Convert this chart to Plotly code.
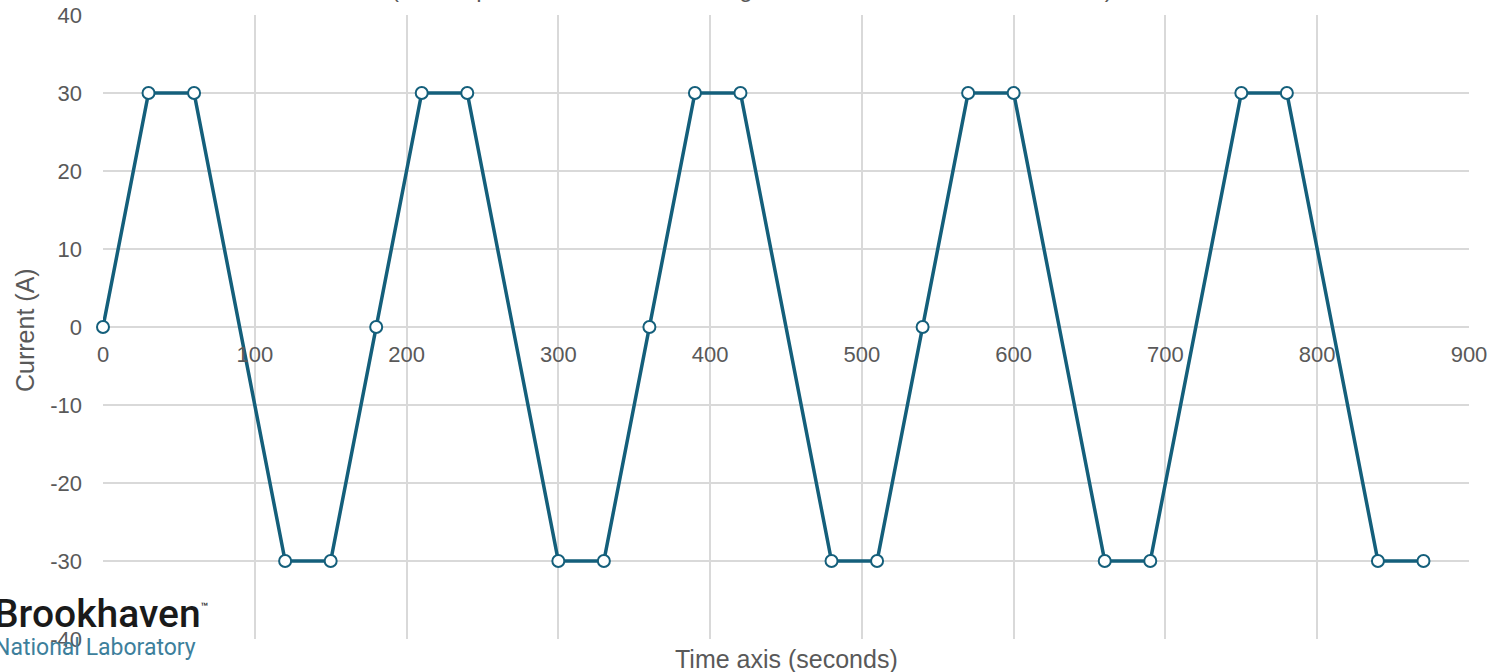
import plotly.graph_objects as go

# Data (time in seconds, current in amperes)
time_s = [0, 30, 60, 120, 150, 180, 210, 240, 300, 330, 360, 390, 420,
          480, 510, 540, 570, 600, 660, 690, 750, 780, 840, 870]
current_a = [0, 30, 30, -30, -30, 0, 30, 30, -30, -30, 0, 30, 30,
             -30, -30, 0, 30, 30, -30, -30, 30, 30, -30, -30]

x_ticks = [0, 100, 200, 300, 400, 500, 600, 700, 800, 900]
x_ticktext = ["0", "100", "200", "300", "400", "500", "600", "700", "800", "900"]
y_ticks = [-40, -30, -20, -10, 0, 10, 20, 30, 40]
y_ticktext = ["-40", "-30", "-20", "-10", "0", "10", "20", "30", "40"]

title_text = "(A sweep from 30 A to -30 A at a gentle rate of 1 A/s with 30 s holds)"
x_title = "Time axis (seconds)"
y_title = "Current (A)"

LINE = "#145f7b"
GRID = "#d9d9d9"
TXT = "#595959"
FONT = "Liberation Sans, Arial, sans-serif"

W, H = 1501, 672
ML, MR, MT, MB = 103, 32, 15, 33
PW, PH = W - ML - MR, H - MT - MB

def px_x(p):
    return (p - ML) / PW

def px_y(p):
    return 1 - (p - MT) / PH

fig = go.Figure()
fig.add_trace(go.Scatter(
    x=time_s, y=current_a, mode="lines+markers",
    line=dict(color=LINE, width=3.5),
    marker=dict(symbol="circle", size=12, color="white",
                line=dict(color=LINE, width=2)),
    showlegend=False, cliponaxis=False,
))

fig.update_layout(
    width=W, height=H,
    margin=dict(l=ML, r=MR, t=MT, b=MB, autoexpand=False),
    paper_bgcolor="white", plot_bgcolor="white",
    font=dict(family=FONT, color=TXT, size=22),
    xaxis=dict(range=[0, 900], tickvals=x_ticks, ticktext=x_ticktext, showgrid=True,
               gridcolor=GRID, gridwidth=1.5, zeroline=False, showline=False,
               anchor="free", position=0.5, ticks="", ticklabelstandoff=12,
               automargin=False,
               tickfont=dict(size=22, color=TXT, family=FONT)),
    yaxis=dict(range=[-40, 40], tickvals=y_ticks, ticktext=y_ticktext, showgrid=True,
               gridcolor=GRID, gridwidth=1.5, zeroline=False, showline=False,
               ticks="", ticklabelstandoff=20, automargin=False,
               tickfont=dict(size=22, color=TXT, family=FONT)),
)

annotations = [
    dict(text=x_title, xref="paper", yref="paper", x=px_x(786), y=px_y(659),
         xanchor="center", yanchor="middle", showarrow=False,
         font=dict(size=25, color=TXT, family=FONT)),
    dict(text=y_title, xref="paper", yref="paper", x=px_x(25), y=px_y(330),
         xanchor="center", yanchor="middle", showarrow=False, textangle=-90,
         font=dict(size=25, color=TXT, family=FONT)),
    dict(text=title_text, xref="paper", yref="paper", x=px_x(752), y=px_y(4),
         xanchor="center", yanchor="bottom", showarrow=False,
         font=dict(size=24, color=TXT, family=FONT)),
    dict(text="Brookhaven<sup><span style='font-size:12px'>™</span></sup>", xref="paper", yref="paper",
         x=px_x(-8), y=px_y(614),
         xanchor="left", yanchor="middle", showarrow=False,
         font=dict(size=39, color="#1a1a1a", family="Roboto", weight=500)),
    dict(text="National Laboratory", xref="paper", yref="paper", x=px_x(-8), y=px_y(647),
         xanchor="left", yanchor="middle", showarrow=False,
         font=dict(size=23, color="#3d7f9c", family="Roboto")),
]
fig.update_layout(annotations=annotations)

fig.write_html("out.html")
